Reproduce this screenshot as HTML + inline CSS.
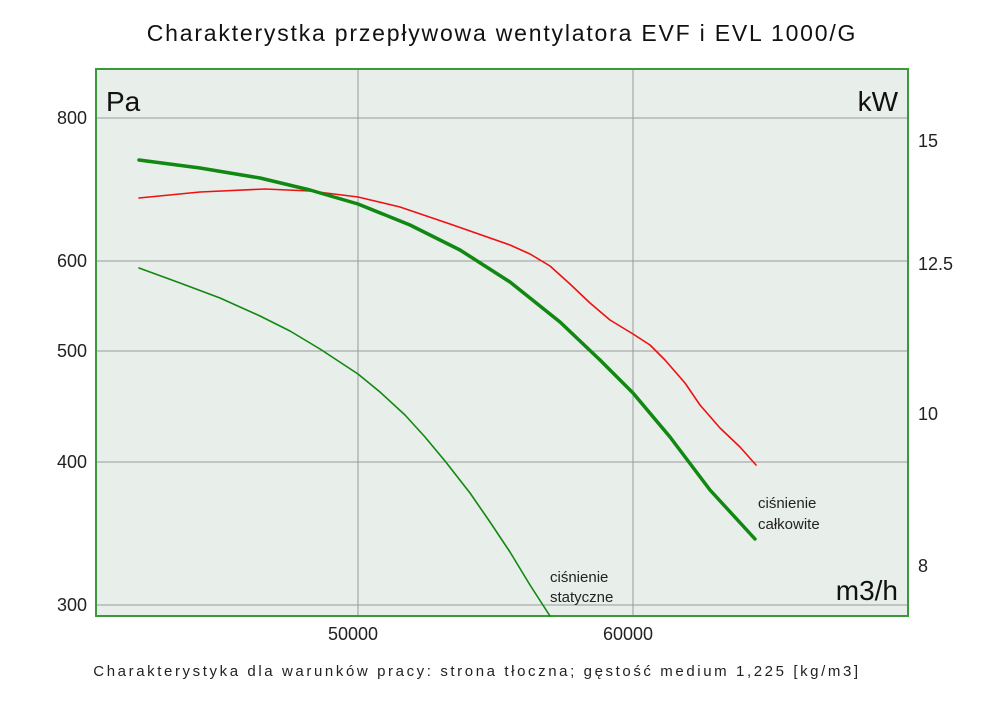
<!DOCTYPE html>
<html><head><meta charset="utf-8"><style>
html,body{margin:0;padding:0;background:#fff;}
svg text{font-family:"Liberation Sans","DejaVu Sans",sans-serif;}
</style></head><body>
<svg width="1000" height="706" viewBox="0 0 1000 706" xmlns="http://www.w3.org/2000/svg">
<text x="502" y="41" font-size="23" text-anchor="middle" fill="#111" letter-spacing="1.8">Charakterystka przepływowa wentylatora EVF i EVL 1000/G</text>
<rect x="96" y="69" width="812" height="547" fill="#e8eeea" stroke="#3a9a3a" stroke-width="2"/>
<g stroke="#999" stroke-width="1">
<line x1="358" y1="70" x2="358" y2="615"/>
<line x1="633" y1="70" x2="633" y2="615"/>
<line x1="97" y1="118" x2="907" y2="118"/>
<line x1="97" y1="261" x2="907" y2="261"/>
<line x1="97" y1="351" x2="907" y2="351"/>
<line x1="97" y1="462" x2="907" y2="462"/>
<line x1="97" y1="605" x2="907" y2="605"/>
</g>
<g font-size="18" fill="#222" text-anchor="end">
<text x="87" y="124">800</text><text x="87" y="267">600</text><text x="87" y="357">500</text><text x="87" y="468">400</text><text x="87" y="611">300</text>
</g>
<g font-size="18" fill="#222">
<text x="918" y="147">15</text><text x="918" y="270">12.5</text><text x="918" y="420">10</text><text x="918" y="572">8</text>
<text x="328" y="640">50000</text><text x="603" y="640">60000</text>
</g>
<text x="106" y="111" font-size="28" fill="#111">Pa</text>
<text x="898" y="111" font-size="28" fill="#111" text-anchor="end">kW</text>
<text x="898" y="600" font-size="28" fill="#111" text-anchor="end">m3/h</text>
<g fill="none" stroke-linejoin="round" stroke-linecap="round">
<polyline stroke="#ee1111" stroke-width="1.6" points="139,198 200,192 265,189 310,191 358,197 400,207 450,224 510,245 530,254 550,266 570,284 590,303 610,320 633,334 650,345 665,360 685,383 700,405 720,428 740,447 756,465"/>
<polyline stroke="#118811" stroke-width="1.6" points="139,268 180,283 220,298 260,316 290,331 320,349 358,374 380,392 405,415 425,437 445,461 470,493 490,522 510,552 530,585 550,616"/>
<polyline stroke="#118811" stroke-width="3.5" points="139,160 200,168 260,178 310,190 358,204 410,225 460,250 510,282 560,322 600,360 633,393 670,437 710,490 755,539"/>
</g>
<g font-size="15" fill="#222">
<text x="758" y="508">ciśnienie</text><text x="758" y="529">całkowite</text>
<text x="550" y="582">ciśnienie</text><text x="550" y="602">statyczne</text>
</g>
<text x="477" y="676" font-size="15" fill="#222" text-anchor="middle" letter-spacing="2.6">Charakterystyka dla warunków pracy: strona tłoczna; gęstość medium 1,225 [kg/m3]</text>
</svg>
</body></html>
